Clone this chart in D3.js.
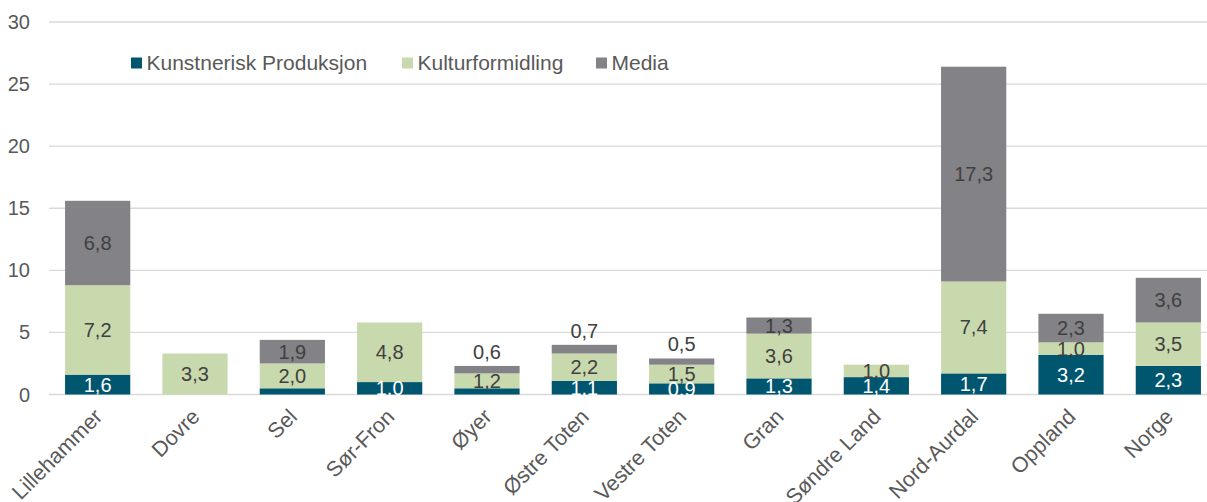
<!DOCTYPE html>
<html>
<head>
<meta charset="utf-8">
<script src="https://cdn.jsdelivr.net/npm/d3@7"></script>
<style>
  body { margin: 0; background: #fff; }
  svg { display: block; font-family: "Liberation Sans", Arial, sans-serif; }
</style>
</head>
<body>
<svg id="chart" width="1207" height="502"></svg>
<script>
// kommuner
const categories = ["Lillehammer", "Dovre", "Sel", "Sør-Fron", "Øyer", "Østre Toten",
  "Vestre Toten", "Gran", "Søndre Land", "Nord-Aurdal", "Oppland", "Norge"];

const kunstnerisk = [1.6, 0, 0.5, 1.0, 0.5, 1.1, 0.9, 1.3, 1.4, 1.7, 3.2, 2.3];
const kulturformidling = [7.2, 3.3, 2.0, 4.8, 1.2, 2.2, 1.5, 3.6, 1.0, 7.4, 1.0, 3.5];
const media = [6.8, 0, 1.9, 0, 0.6, 0.7, 0.5, 1.3, 0, 17.3, 2.3, 3.6];

const seriesNames = ["Kunstnerisk Produksjon", "Kulturformidling", "Media"];
const yTicks = [0, 5, 10, 15, 20, 25, 30];

const colors = ["#00566f", "#c9d9ae", "#838287"];
const labelColors = ["#ffffff", "#404040", "#404040"];

const svg = d3.select("#chart");

const x = d3.scaleBand()
  .domain(categories)
  .range([49, 1217])
  .paddingInner(0.33)
  .paddingOuter(0.165);

const y = d3.scaleLinear()
  .domain([0, 30])
  .range([394.5, 22]);

// gridlines
svg.append("g")
  .selectAll("line")
  .data(yTicks)
  .join("line")
  .attr("x1", 49)
  .attr("x2", 1207)
  .attr("y1", d => y(d))
  .attr("y2", d => y(d))
  .attr("stroke", "#d9d9d9")
  .attr("stroke-width", 1.3);

// y tick labels
svg.append("g")
  .selectAll("text")
  .data(yTicks)
  .join("text")
  .attr("x", 30)
  .attr("y", d => y(d))
  .attr("dy", "0.35em")
  .attr("text-anchor", "end")
  .attr("fill", "#595959")
  .style("font-size", "20px")
  .text(d => d);

// stack
const rows = categories.map((c, i) => ({
  cat: c, k0: kunstnerisk[i], k1: kulturformidling[i], k2: media[i]
}));
const stack = d3.stack().keys(["k0", "k1", "k2"])(rows);

const layers = svg.append("g")
  .selectAll("g")
  .data(stack)
  .join("g")
  .attr("fill", (d, i) => colors[i]);

layers.selectAll("rect")
  .data(d => d)
  .join("rect")
  .attr("x", d => x(d.data.cat))
  .attr("width", x.bandwidth())
  .attr("y", d => y(d[1]))
  .attr("height", d => y(d[0]) - y(d[1]));

// data labels (de minste nederste verdiene er uten etikett i originalen)
const fmt = v => v.toFixed(1).replace(".", ",");
stack.forEach(function(layer, li) {
  svg.append("g")
    .selectAll("text")
    .data(layer.filter(d => {
      let v = d[1] - d[0];
      return v > 0 && !(li === 0 && v < 0.6);
    }))
    .join("text")
    .attr("x", d => x(d.data.cat) + x.bandwidth() / 2)
    .attr("y", function(d) {
      let v = d[1] - d[0];
      // små media-verdier står over søylen
      if (li === 2 && v < 1) return y(d[1]) - 14;
      return (y(d[0]) + y(d[1])) / 2;
    })
    .attr("dy", "0.35em")
    .attr("text-anchor", "middle")
    .attr("fill", function(d) {
      let v = d[1] - d[0];
      if (li === 2 && v < 1) return "#404040";
      return labelColors[li];
    })
    .style("font-size", "20px")
    .text(d => fmt(d[1] - d[0]));
});

// category labels
svg.append("g")
  .selectAll("text")
  .data(categories)
  .join("text")
  .attr("transform", d => "translate(" + (x(d) + x.bandwidth() / 2 + 6) + ",418) rotate(-45)")
  .attr("text-anchor", "end")
  .attr("fill", "#595959")
  .style("font-size", "21.5px")
  .text(d => d);

// legend
const legendX = [131, 402, 596];
const legend = svg.append("g")
  .selectAll("g")
  .data(seriesNames)
  .join("g")
  .attr("transform", (d, i) => "translate(" + legendX[i] + ",63)");

legend.append("rect")
  .attr("x", 0)
  .attr("y", -5.5)
  .attr("width", 11)
  .attr("height", 11)
  .attr("fill", (d, i) => colors[i]);

legend.append("text")
  .attr("x", 15.5)
  .attr("dy", "0.35em")
  .attr("fill", "#595959")
  .style("font-size", "21px")
  .text(d => d);
</script>
</body>
</html>
